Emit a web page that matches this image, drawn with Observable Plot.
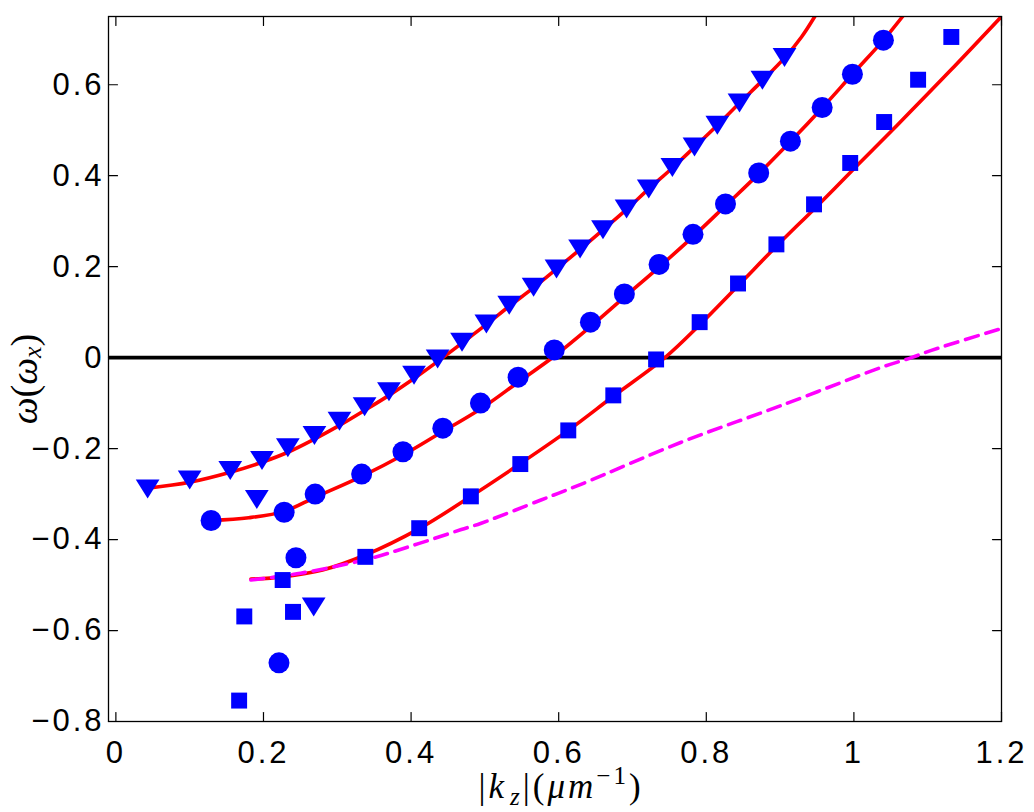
<!DOCTYPE html>
<html>
<head>
<meta charset="utf-8">
<script src="https://cdn.jsdelivr.net/npm/d3@7"></script>
<script src="https://cdn.jsdelivr.net/npm/@observablehq/plot@0.6"></script>
<style>
  body { margin: 0; background: #fff; }
  #chart g[aria-label$="tick label"] text { letter-spacing: 3px; }
</style>
</head>
<body>
<div id="chart"></div>
<script>
// Tick values
const xTicks = [0, 0.2, 0.4, 0.6, 0.8, 1, 1.2];
const yTicks = [-0.8, -0.6, -0.4, -0.2, 0, 0.2, 0.4, 0.6];

// Measured points [|k_z|, omega]
const triangles = [
  [0.043,-0.289],[0.100,-0.269],[0.155,-0.248],[0.198,-0.226],[0.233,-0.198],[0.269,-0.171],
  [0.303,-0.140],[0.337,-0.108],[0.370,-0.075],[0.404,-0.039],[0.436,-0.003],[0.469,0.034],
  [0.502,0.074],[0.533,0.115],[0.566,0.155],[0.597,0.195],[0.629,0.239],[0.660,0.281],
  [0.692,0.327],[0.722,0.371],[0.754,0.418],[0.784,0.463],[0.815,0.511],[0.845,0.560],
  [0.876,0.610],[0.906,0.660],
  [0.191,-0.312],[0.268,-0.548]
];
const circles = [
  [0.129,-0.358],[0.228,-0.340],[0.270,-0.300],[0.333,-0.256],[0.389,-0.207],[0.443,-0.155],
  [0.494,-0.100],[0.545,-0.043],[0.594,0.017],[0.643,0.078],[0.689,0.140],[0.736,0.205],
  [0.782,0.271],[0.826,0.338],[0.871,0.406],[0.914,0.476],[0.957,0.550],[0.998,0.623],
  [1.040,0.698],
  [0.244,-0.440],[0.221,-0.671]
];
const squares = [
  [0.226,-0.489],[0.338,-0.438],[0.411,-0.375],[0.481,-0.305],[0.548,-0.234],[0.613,-0.160],
  [0.674,-0.083],[0.732,-0.004],[0.791,0.078],[0.843,0.163],[0.895,0.249],[0.946,0.337],
  [0.995,0.428],[1.041,0.518],[1.087,0.611],[1.132,0.705],
  [0.174,-0.569],[0.240,-0.559],[0.167,-0.754]
];

// Fitted curves
const fit1 = [
  [0.043,-0.287],[0.100,-0.274],[0.155,-0.252],[0.198,-0.230],[0.233,-0.208],[0.269,-0.179],
  [0.303,-0.149],[0.337,-0.116],[0.370,-0.083],[0.404,-0.046],[0.443,0.000],[0.469,0.032],
  [0.502,0.073],[0.533,0.113],[0.566,0.154],[0.597,0.195],[0.629,0.238],[0.660,0.281],
  [0.692,0.326],[0.722,0.371],[0.754,0.417],[0.784,0.463],[0.815,0.511],[0.845,0.560],
  [0.876,0.609],[0.906,0.659],[0.929,0.705],[0.947,0.750]
];
const fit2 = [
  [0.129,-0.358],[0.180,-0.352],[0.228,-0.338],[0.270,-0.307],[0.333,-0.261],[0.389,-0.214],
  [0.435,-0.170],[0.494,-0.113],[0.545,-0.054],[0.594,0.003],[0.643,0.068],[0.689,0.133],
  [0.736,0.199],[0.782,0.266],[0.826,0.334],[0.871,0.404],[0.914,0.475],[0.957,0.549],
  [0.998,0.623],[1.040,0.698],[1.066,0.750]
];
const fit3 = [
  [0.183,-0.487],[0.226,-0.482],[0.280,-0.467],[0.338,-0.434],[0.411,-0.376],[0.481,-0.305],
  [0.548,-0.233],[0.613,-0.160],[0.674,-0.085],[0.744,0.000],[0.791,0.072],[0.843,0.158],
  [0.895,0.245],[0.950,0.333],[1.006,0.425],[1.058,0.510],[1.130,0.630],[1.200,0.750]
];
const dashed = [
  [0.183,-0.489],[0.250,-0.474],[0.341,-0.443],[0.410,-0.409],[0.468,-0.378],[0.495,-0.364],
  [0.576,-0.313],[0.631,-0.278],[0.766,-0.186],[0.902,-0.105],[1.038,-0.021],[1.078,0.000],
  [1.105,0.016],[1.200,0.064]
];

const xDomain = [-0.01, 1.2];
const yDomain = [-0.8, 0.75];

const triangleDown = {
  draw(context, size) {
    const r = Math.sqrt(size / Math.PI);
    context.moveTo(-1.25 * r, -r);
    context.lineTo(1.25 * r, -r);
    context.lineTo(0, r);
    context.closePath();
  }
};
const tickShape = {
  draw(context, l) { context.moveTo(0, 0); context.lineTo(0, -l); }
};

const fmt = d => String(d).replace("-", "\u2212");
const X = d => d[0], Y = d => d[1];
const TICK = 9;
const LW = 3.6;

const chart = Plot.plot({
  width: 1034,
  height: 812,
  marginLeft: 108,
  marginRight: 33,
  marginTop: 16,
  marginBottom: 91,
  style: { fontFamily: "'Liberation Sans', Arial, sans-serif", color: "#000", background: "#fff" },
  x: { domain: xDomain },
  y: { domain: yDomain },
  marks: [
    Plot.ruleY([0], { stroke: "#000", strokeWidth: 3.6 }),
    Plot.line(fit1, { x: X, y: Y, stroke: "#ff0000", strokeWidth: LW, curve: "catmull-rom", clip: true }),
    Plot.line(fit2, { x: X, y: Y, stroke: "#ff0000", strokeWidth: LW, curve: "catmull-rom", clip: true }),
    Plot.line(fit3, { x: X, y: Y, stroke: "#ff0000", strokeWidth: LW, curve: "catmull-rom", clip: true }),
    Plot.line(dashed, { x: X, y: Y, stroke: "#ff00ff", strokeWidth: LW, strokeDasharray: "13,8", curve: "catmull-rom", clip: true }),
    Plot.dot(triangles, { x: X, y: Y, r: 9.5, symbol: triangleDown, fill: "#0000ff", stroke: "none" }),
    Plot.dot(circles, { x: X, y: Y, r: 10.5, symbol: "circle", fill: "#0000ff", stroke: "none" }),
    Plot.dot(squares, { x: X, y: Y, r: 9.0, symbol: "square", fill: "#0000ff", stroke: "none" }),
    Plot.frame({ stroke: "#000", strokeWidth: 1.3 }),
    // inward ticks on all four sides
    Plot.vector(xTicks, { x: d => d, y: yDomain[0], length: TICK, rotate: 0, anchor: "start", shape: tickShape, stroke: "#000", strokeWidth: 1.2 }),
    Plot.vector(xTicks, { x: d => d, y: yDomain[1], length: TICK, rotate: 180, anchor: "start", shape: tickShape, stroke: "#000", strokeWidth: 1.2 }),
    Plot.vector(yTicks, { x: xDomain[0], y: d => d, length: TICK, rotate: 90, anchor: "start", shape: tickShape, stroke: "#000", strokeWidth: 1.2 }),
    Plot.vector(yTicks, { x: xDomain[1], y: d => d, length: TICK, rotate: -90, anchor: "start", shape: tickShape, stroke: "#000", strokeWidth: 1.2 }),
    Plot.axisX({ ticks: xTicks, tickSize: 0, tickPadding: 19, fontSize: 31, tickFormat: fmt, label: null }),
    Plot.axisY({ ticks: yTicks, tickSize: 0, tickPadding: 4, fontSize: 31, tickFormat: fmt, label: null })
  ]
});

document.getElementById("chart").appendChild(chart);

const svg = d3.select(chart);
const serif = "'Liberation Serif', 'Times New Roman', serif";

// x label: |k_z|(μm^{-1})
const xl = svg.append("text")
  .attr("x", 561).attr("y", 798)
  .attr("text-anchor", "middle")
  .attr("font-family", serif).attr("font-size", 35).attr("fill", "#000")
  .style("letter-spacing", "3px");
xl.append("tspan").text("|");
xl.append("tspan").attr("font-style", "italic").text("k");
xl.append("tspan").attr("font-style", "italic").attr("font-size", 25).attr("dx", 3).attr("dy", 7).text("z");
xl.append("tspan").attr("dy", -7).text("|(");
xl.append("tspan").attr("font-style", "italic").text("μm");
xl.append("tspan").attr("font-size", 25).attr("dy", -14).text("\u22121");
xl.append("tspan").attr("dy", 14).text(")");

// y label: ω(ω_x)
const yl = svg.append("text")
  .attr("transform", "translate(37,379) rotate(-90)")
  .attr("text-anchor", "middle")
  .attr("font-family", serif).attr("font-size", 38).attr("fill", "#000");
yl.append("tspan").attr("font-style", "italic").text("ω");
yl.append("tspan").text("(");
yl.append("tspan").attr("font-style", "italic").text("ω");
yl.append("tspan").attr("font-style", "italic").attr("font-size", 26).attr("dy", 4).text("x");
yl.append("tspan").attr("dy", -4).text(")");
</script>
</body>
</html>
